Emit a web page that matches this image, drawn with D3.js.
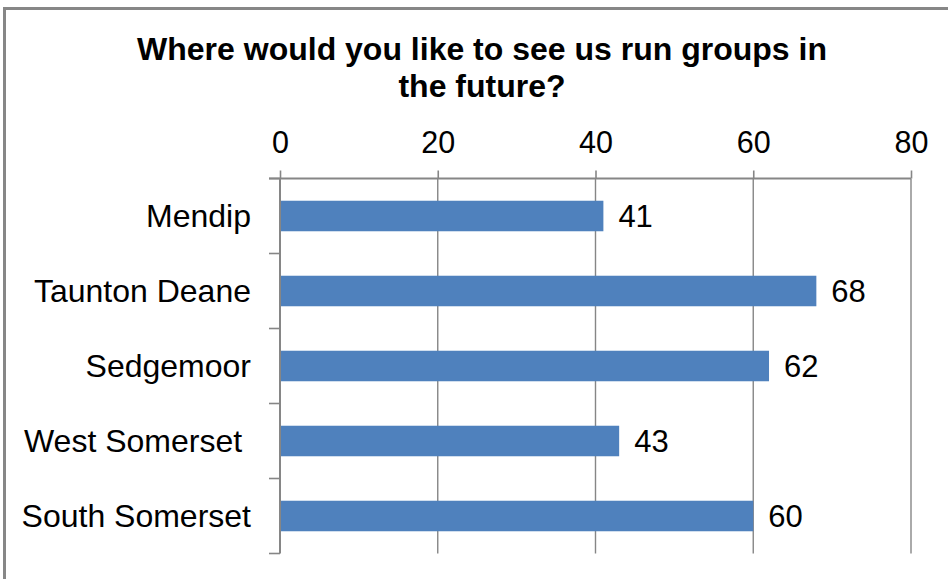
<!DOCTYPE html>
<html>
<head>
<meta charset="utf-8">
<script src="https://cdn.jsdelivr.net/npm/d3@7"></script>
<style>
  html, body { margin: 0; padding: 0; background: #ffffff; }
  svg { display: block; font-family: "Liberation Sans", Arial, sans-serif; }
</style>
</head>
<body>
<svg id="chart" width="948" height="579"></svg>
<script>
// Survey responses: preferred locations for future groups
const categories = ["Mendip", "Taunton Deane", "Sedgemoor", "West Somerset ", "South Somerset"];
const values = [41, 68, 62, 43, 60];
const xTicks = [0, 20, 40, 60, 80];
const titleLines = ["Where would you like to see us run groups in", "the future?"];

const svg = d3.select("#chart");

// outer frame
svg.append("rect")
  .attr("x", 4.5).attr("y", 8.5)
  .attr("width", 970).attr("height", 600)
  .attr("fill", "#ffffff")
  .attr("stroke", "#878787")
  .attr("stroke-width", 3);

// title
const title = svg.append("text")
  .attr("text-anchor", "middle")
  .attr("font-weight", "bold")
  .attr("font-size", 32)
  .attr("fill", "#000");
titleLines.forEach((t, i) => {
  title.append("tspan").attr("x", 482).attr("y", 60 + i * 37).text(t);
});

const x = d3.scaleLinear().domain([0, 80]).range([280, 911]);
const y = d3.scaleBand().domain(categories).range([178.5, 553.5])
  .paddingInner(0.593).paddingOuter(0.2965);

const gridColor = "#868686";

// vertical gridlines
svg.append("g")
  .selectAll("line")
  .data(xTicks.filter(d => d > 0))
  .join("line")
  .attr("x1", d => x(d)).attr("x2", d => x(d))
  .attr("y1", 178.5).attr("y2", 553.5)
  .attr("stroke", gridColor)
  .attr("stroke-width", 1.4);

// bars
svg.append("g")
  .selectAll("rect")
  .data(values)
  .join("rect")
  .attr("x", x(0))
  .attr("y", (d, i) => y(categories[i]))
  .attr("width", d => x(d) - x(0))
  .attr("height", y.bandwidth())
  .attr("fill", "#4F81BD");

// top value axis
const xAxis = svg.append("g")
  .attr("transform", "translate(0,178.5)")
  .call(d3.axisTop(x).tickValues(xTicks).tickSize(8).tickPadding(18).tickSizeOuter(0));
xAxis.select(".domain").attr("stroke", gridColor).attr("stroke-width", 2)
  .attr("d", `M${x(0) - 11},0H${x(80)}`);
xAxis.selectAll(".tick line").attr("stroke", gridColor).attr("stroke-width", 1.6);
xAxis.selectAll(".tick text")
  .attr("font-size", 30.5)
  .attr("font-family", "Liberation Sans, Arial, sans-serif")
  .attr("fill", "#000");

// category axis
const yBoundaries = d3.range(categories.length + 1).map(i => 178.5 + i * y.step());
const yAxis = svg.append("g");
yAxis.append("line")
  .attr("x1", x(0)).attr("x2", x(0))
  .attr("y1", 178.5).attr("y2", 553.5)
  .attr("stroke", gridColor).attr("stroke-width", 2);
yAxis.selectAll("line.tk")
  .data(yBoundaries)
  .join("line")
  .attr("class", "tk")
  .attr("x1", x(0) - 11).attr("x2", x(0))
  .attr("y1", d => d).attr("y2", d => d)
  .attr("stroke", gridColor).attr("stroke-width", 1.6);
yAxis.selectAll("text")
  .data(categories)
  .join("text")
  .attr("x", 251)
  .attr("y", d => y(d) + y.bandwidth() / 2)
  .attr("dy", "0.35em")
  .attr("text-anchor", "end")
  .attr("font-size", 32)
  .attr("fill", "#000")
  .style("white-space", "pre")
  .attr("xml:space", "preserve")
  .text(d => d);

// value labels
svg.append("g")
  .selectAll("text")
  .data(values)
  .join("text")
  .attr("x", d => x(d) + 15)
  .attr("y", (d, i) => y(categories[i]) + y.bandwidth() / 2)
  .attr("dy", "0.35em")
  .attr("font-size", 31)
  .attr("fill", "#000")
  .text(d => d);
</script>
</body>
</html>
